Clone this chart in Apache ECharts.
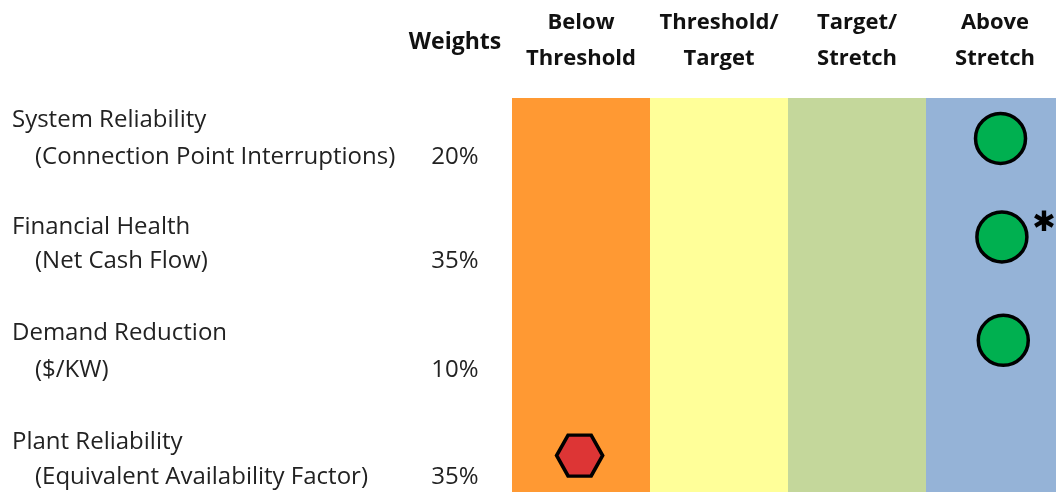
<!DOCTYPE html>
<html>
<head>
<meta charset="utf-8">
<script src="https://cdn.jsdelivr.net/npm/echarts@6/dist/echarts.min.js"></script>
<style>
  html, body { margin: 0; padding: 0; background: #fff; }
  #scoreCard { width: 1056px; height: 492px; }
</style>
</head>
<body>
<div id="scoreCard"></div>
<script>
// column headers (performance bands)
var bandNames = ['Below\nThreshold', 'Threshold/\nTarget', 'Target/\nStretch', 'Above\nStretch'];
var bandColors = ['#FF9933', '#FFFF99', '#C4D79B', '#95B3D7'];

// metrics down the left side
var metricNames = ['System Reliability', 'Financial Health', 'Demand Reduction', 'Plant Reliability'];
var metricSubs = ['(Connection Point Interruptions)', '(Net Cash Flow)', '($/KW)', '(Equivalent Availability Factor)'];
var weights = ['20%', '35%', '10%', '35%'];

// where each marker sits: x = band position (0..4), y = row position (0..4)
var scoreX = [3.54, 3.55, 3.56, 0.49];
var scoreY = [0.41, 1.41, 2.46, 3.63];
var scoreState = ['good', 'good', 'good', 'bad'];
var footnote = [false, true, false, false];

var myChart = echarts.init(document.getElementById('scoreCard'));

var font = '"Open Sans", Lato, sans-serif';
var titleY = [120, 227, 333, 442];
var subY = [157, 261, 370, 477];

var graphics = [{
  type: 'text', x: 455, y: 42,
  style: { text: 'Weights', align: 'center', verticalAlign: 'middle',
           font: 'bold 23px ' + font, fill: '#111' }
}];
for (var i = 0; i < metricNames.length; i++) {
  graphics.push({ type: 'text', x: 12, y: titleY[i],
    style: { text: metricNames[i], verticalAlign: 'middle', font: '24px ' + font, fill: '#222' } });
  graphics.push({ type: 'text', x: 35, y: subY[i],
    style: { text: metricSubs[i], verticalAlign: 'middle', font: '24px ' + font, fill: '#222' } });
  graphics.push({ type: 'text', x: 455, y: subY[i],
    style: { text: weights[i], align: 'center', verticalAlign: 'middle', font: '24px ' + font, fill: '#222' } });
}

var hexPath = 'path://M0 21.5 L12 0 L36 0 L48 21.5 L36 43 L12 43 Z';
var points = [];
for (var j = 0; j < scoreX.length; j++) {
  var good = scoreState[j] === 'good';
  points.push({
    value: [scoreX[j], scoreY[j]],
    symbol: good ? 'circle' : hexPath,
    symbolSize: good ? 50 : [46, 41],
    itemStyle: { color: good ? '#00B050' : '#DD3535', borderColor: '#000', borderWidth: 3.5, opacity: 1 },
    label: {
      show: footnote[j], formatter: '\u2731', position: [57, 0],
      fontSize: 28, color: '#000', fontFamily: 'DejaVu Sans'
    }
  });
}

var bandAreas = [];
for (var k = 0; k < bandColors.length; k++) {
  bandAreas.push([{ xAxis: k, itemStyle: { color: bandColors[k], opacity: 1 } }, { xAxis: k + 1 }]);
}

// bands are 138px wide; the page cuts the last one at 544px
var bandWidth = 138;
var gridWidth = 1056 - 512;

var option = {
  animation: false,
  grid: { left: 512, top: 98, right: 0, bottom: 0 },
  graphic: graphics,
  xAxis: {
    type: 'value', position: 'top', min: 0, max: gridWidth / bandWidth,
    axisLine: { show: false }, axisTick: { show: false }, splitLine: { show: false },
    axisLabel: {
      customValues: [0.5, 1.5, 2.5, 3.5],
      formatter: function (v) { return bandNames[Math.floor(v)]; },
      fontFamily: font, fontWeight: 'bold', fontSize: 22, lineHeight: 36, color: '#111', margin: 21
    }
  },
  yAxis: { type: 'value', min: 0, max: 4, inverse: true, show: false },
  series: [{
    type: 'scatter',
    data: points,
    z: 5,
    markArea: { silent: true, data: bandAreas }
  }]
};

myChart.setOption(option);
</script>
</body>
</html>
